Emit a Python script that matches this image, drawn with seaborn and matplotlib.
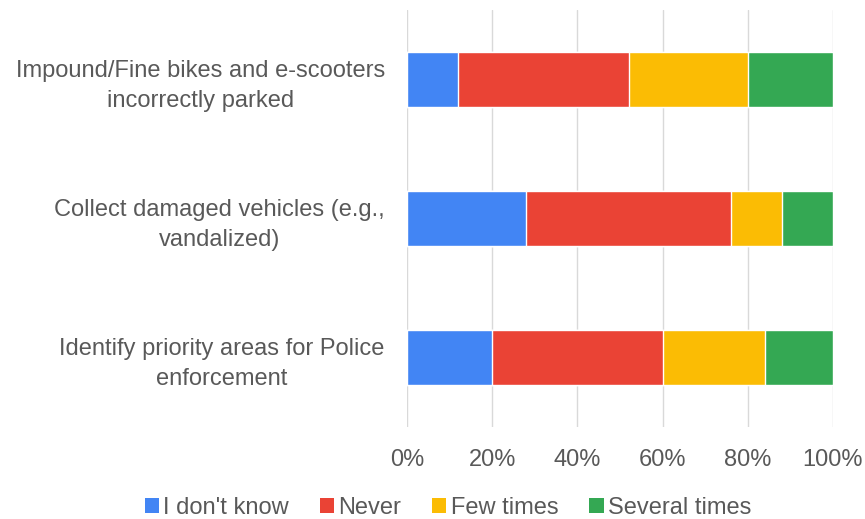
import pandas as pd
import matplotlib
matplotlib.use("Agg")
import matplotlib.pyplot as plt
import seaborn as sns
from matplotlib.patches import Patch

# Datos (porcentajes)
categorias = [
    "Impound/Fine bikes and e-scooters\nincorrectly parked",
    "Collect damaged vehicles (e.g.,\nvandalized)",
    "Identify priority areas for Police\nenforcement",
]
no_sabe = [12, 28, 20]
nunca = [40, 48, 40]
pocas_veces = [28, 12, 24]
varias_veces = [20, 12, 16]

series = ["I don't know", "Never", "Few times", "Several times"]
colores = ["#4285F4", "#EA4335", "#FBBC04", "#34A853"]

sns.set_theme(style="white")
plt.rcParams['font.family'] = ['Liberation Sans', 'DejaVu Sans']
gris = "#595959"

df = pd.DataFrame({
    "categoria": categorias,
    "I don't know": no_sabe,
    "Never": nunca,
    "Few times": pocas_veces,
    "Several times": varias_veces,
})
acum = df[series].cumsum(axis=1)

fig = plt.figure(figsize=(8.65, 5.19), dpi=100)
ax = fig.add_axes([0.4705, 0.1773, 0.4925, 0.8035])

# dibujar de mayor a menor acumulado para que se vea apilado
for serie, color in reversed(list(zip(series, colores))):
    sns.barplot(x=acum[serie], y=df["categoria"], color=color, orient="h",
                width=0.4, ax=ax, saturation=1, zorder=3)

ax.set_xlim(0, 100)
ax.set_ylim(2.5, -0.5)
ax.set_xticks([0, 20, 40, 60, 80, 100])
ax.set_xticklabels([f"{v}%" for v in [0, 20, 40, 60, 80, 100]])
ax.xaxis.grid(True, color="#D9D9D9", linewidth=1, zorder=0)
ax.set_axisbelow(True)
for s in ax.spines.values():
    s.set_visible(False)
ax.set_xlabel("")
ax.set_ylabel("")
ax.tick_params(axis="x", colors=gris, labelsize=17, pad=16, length=0)
ax.tick_params(axis="y", colors=gris, labelsize=17, pad=16, length=0)
for lbl in ax.get_yticklabels():
    lbl.set_multialignment("center")
    lbl.set_linespacing(1.45)

handles = [Patch(facecolor=c, edgecolor="none") for c in colores]
fig.legend(handles, series, loc="center", bbox_to_anchor=(0.518, 0.022),
           ncol=4, frameon=False, fontsize=17, handlelength=0.6, handleheight=0.6,
           handletextpad=0.2, columnspacing=1.3, labelcolor=gris)

plt.savefig("out.png", dpi=100)
plt.close()
